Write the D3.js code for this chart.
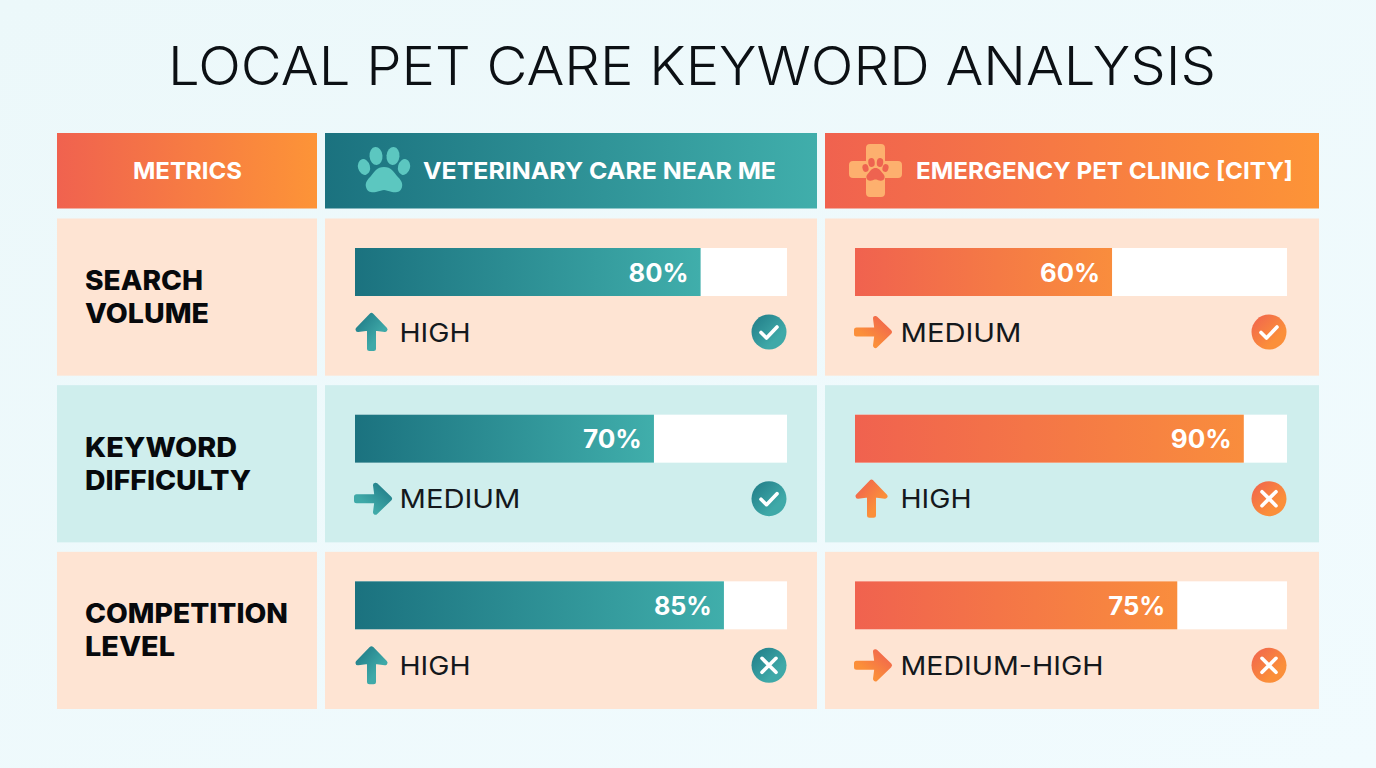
<!DOCTYPE html>
<html><head><meta charset="utf-8">
<script src="https://cdn.jsdelivr.net/npm/d3@7/dist/d3.min.js"></script>
<style>html,body{margin:0;padding:0;background:#f1fafc;overflow:hidden}svg{display:block}text{font-family:Inter,"Noto Sans",sans-serif}</style>
</head><body><svg id="c" width="1376" height="768"></svg>
<script>
const title = "LOCAL PET CARE KEYWORD ANALYSIS";
const metricHeader = "METRICS";
const keywords = ["VETERINARY CARE NEAR ME", "EMERGENCY PET CLINIC [CITY]"];
const metrics = [["SEARCH","VOLUME"],["KEYWORD","DIFFICULTY"],["COMPETITION","LEVEL"]];
const veterinaryLabels = ["80%","70%","85%"];
const emergencyLabels = ["60%","90%","75%"];
const veterinaryValues = [80, 69.2, 85.4];
const emergencyValues = [59.5, 90, 74.6];
const veterinaryLevels = ["HIGH","MEDIUM","HIGH"];
const emergencyLevels = ["MEDIUM","HIGH","MEDIUM-HIGH"];
const veterinaryOk = [true,true,false];
const emergencyOk = [true,false,false];

const widths = {"LOCAL PET CARE KEYWORD ANALYSIS":1048,"METRICS":109,"VETERINARY CARE NEAR ME":353,"EMERGENCY PET CLINIC [CITY]":377,
 "SEARCH":118,"VOLUME":124,"KEYWORD":152,"DIFFICULTY":166,"COMPETITION":203,"LEVEL":90,
 "HIGH":71,"MEDIUM":121,"MEDIUM-HIGH":203,"80%":60,"70%":59,"85%":58,"60%":60,"90%":61,"75%":57};

const svg = d3.select("#c"), defs = svg.append("defs");
function grad(id, a, b, x2=1, y2=0){
  const g = defs.append("linearGradient").attr("id",id).attr("x1",0).attr("y1",0).attr("x2",x2).attr("y2",y2);
  g.append("stop").attr("offset",0).attr("stop-color",a);
  g.append("stop").attr("offset",1).attr("stop-color",b);
}
grad("bg","#ecf8fa","#f1fbfe",1,1);
grad("teal","#1b727f","#40aeab");
grad("orange","#f0624f","#fd9437");
grad("orangeBar","#f0624f","#f98d3d");
grad("tealIcon","#1f7a86","#3fa9a8",0.7,0.7);
grad("orangeIcon","#f0624f","#fb8f3a",0.7,0.7);

function put(sel, t, o){
  return sel.append("text").text(t).attr("x",o.x).attr("y",o.y)
    .attr("font-size",o.size).attr("font-weight",o.weight).attr("fill",o.fill)
    .attr("textLength",widths[t]).attr("lengthAdjust","spacingAndGlyphs");
}
svg.append("rect").attr("width",1376).attr("height",768).attr("fill","url(#bg)");
put(svg,title,{x:168,y:84.5,size:53,weight:300,fill:"#0c1014"});

const rowY = d3.scaleBand().domain(d3.range(metrics.length)).range([218.5,709]).paddingInner(0.057);
const rowFill = ["#fee4d3","#cfeeed","#fee4d3"];
const cols = [
 {x:325,w:492,bar:[355,787],g:"teal",bg:"teal",icon:"tealIcon",vals:veterinaryValues,labels:veterinaryLabels,lv:veterinaryLevels,ok:veterinaryOk,lx:399.5},
 {x:825,w:494,bar:[855,1287],g:"orange",bg:"orangeBar",icon:"orangeIcon",vals:emergencyValues,labels:emergencyLabels,lv:emergencyLevels,ok:emergencyOk,lx:900.5}
];

svg.append("rect").attr("x",57).attr("y",133).attr("width",260).attr("height",75.5).attr("fill","url(#orange)");
put(svg,metricHeader,{x:133,y:179,size:23.5,weight:700,fill:"#fff"});
cols.forEach(c=>svg.append("rect").attr("x",c.x).attr("y",133).attr("width",c.w).attr("height",75.5).attr("fill",`url(#${c.g})`));
put(svg,keywords[0],{x:423,y:179,size:23.5,weight:700,fill:"#fff"});
put(svg,keywords[1],{x:916,y:179,size:23.5,weight:700,fill:"#fff"});

function paw(sel,cx,cy,s,fill){
  const g = sel.append("g").attr("transform",`translate(${cx},${cy}) scale(${s})`).attr("fill",fill);
  [[-20,-3,6,8,-15],[-8,-14,6.5,9,-5],[9,-14,6.5,9,5],[20,-3,6,8,15]].forEach(t=>
    g.append("ellipse").attr("rx",t[2]).attr("ry",t[3]).attr("transform",`translate(${t[0]},${t[1]}) rotate(${t[4]})`));
  g.append("path").attr("d","M0,-3 C7,-3 10,2 13,6 C17,10 19,13 18,17 C17,22 12,23 8,22 C4,21 2,20 0,20 C-2,20 -4,21 -8,22 C-12,23 -17,22 -18,17 C-19,13 -17,10 -13,6 C-10,2 -7,-3 0,-3Z");
}
paw(svg,384,170,1,"#5cc7c0");
svg.append("path").attr("d","M870,144 h11 a4,4 0 0 1 4,4 v13 h13 a4,4 0 0 1 4,4 v9 a4,4 0 0 1 -4,4 h-13 v15 a4,4 0 0 1 -4,4 h-11 a4,4 0 0 1 -4,-4 v-15 h-13 a4,4 0 0 1 -4,-4 v-9 a4,4 0 0 1 4,-4 h13 v-13 a4,4 0 0 1 4,-4Z").attr("fill","#fdb06e");
paw(svg,875.5,169.5,0.5,"#ee6350");

function arrow(sel,kind,cx,cy,fill){
  const up = "M0,-16.5 L13.5,-2.5 L2,-4 L2,16.5 L-2,16.5 L-2,-4 L-13.5,-2.5 Z";
  sel.append("path").attr("d",up).attr("fill",`url(#${fill})`).attr("stroke",`url(#${fill})`)
    .attr("stroke-width",5).attr("stroke-linejoin","round")
    .attr("transform",`translate(${cx},${cy})`+(kind==="up"?"":" rotate(90)"));
}
function badge(sel,ok,cx,cy,fill){
  sel.append("circle").attr("cx",cx).attr("cy",cy).attr("r",17.5).attr("fill",`url(#${fill})`);
  sel.append("path").attr("transform",`translate(${cx},${cy})`)
    .attr("d",ok?"M-8,0.5 L-2.5,6 L8,-5":"M-7,-7 L7,7 M7,-7 L-7,7")
    .attr("fill","none").attr("stroke","#fff").attr("stroke-width",3.6).attr("stroke-linecap","round").attr("stroke-linejoin","round");
}

metrics.forEach((m,r)=>{
  const y = rowY(r), h = rowY.bandwidth();
  svg.append("rect").attr("x",57).attr("y",y).attr("width",260).attr("height",h).attr("fill",rowFill[r]);
  m.forEach((line,k)=>put(svg,line,{x:85,y:y+71.5+k*33,size:27,weight:800,fill:"#07090c"}));
  cols.forEach(c=>{
    svg.append("rect").attr("x",c.x).attr("y",y).attr("width",c.w).attr("height",h).attr("fill",rowFill[r]);
    const bx = d3.scaleLinear().domain([0,100]).range(c.bar);
    const by = y+29.5, bh = 48;
    svg.append("rect").attr("x",bx(0)).attr("y",by).attr("width",bx(100)-bx(0)).attr("height",bh).attr("fill","#fff");
    svg.append("rect").attr("x",bx(0)).attr("y",by).attr("width",bx(c.vals[r])-bx(0)).attr("height",bh).attr("fill",`url(#${c.bg})`);
    const pct = c.labels[r];
    put(svg,pct,{x:bx(c.vals[r])-12-widths[pct],y:by+33.5,size:25,weight:700,fill:"#fff"});
    const lvl = c.lv[r];
    const cyy = y+113.5;
    arrow(svg,lvl==="HIGH"?"up":"right",c.bar[0]+(lvl==="HIGH"?16.5:18),cyy,c.icon);
    put(svg,lvl,{x:c.lx,y:cyy+9.5,size:26,weight:400,fill:"#14181c"});
    badge(svg,c.ok[r],c.bar[1]-18,cyy,c.icon);
  });
});
</script></body></html>
